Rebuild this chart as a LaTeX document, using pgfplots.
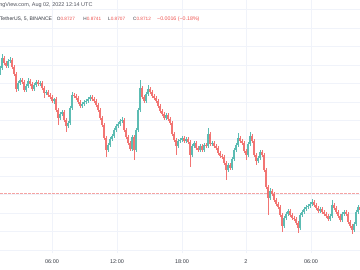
\documentclass[border=0pt]{standalone}
\usepackage{fontspec}
\setmainfont{Liberation Sans}
\usepackage{pgfplots}
\usepackage{pgfplotstable}
\pgfplotsset{compat=1.18}
\definecolor{tvgreen}{HTML}{26A69A}
\definecolor{tvred}{HTML}{EF5350}
\definecolor{tvgrid}{HTML}{F0F3FA}
\definecolor{tvtext}{HTML}{131722}
\definecolor{tvgray}{HTML}{50535E}
\definecolor{tvpink}{HTML}{F5A3A2}

% t = horizontal position of the candle, o h l c = open high low close (price level, arbitrary linear units)
\pgfplotstableread{
t o h l c
0 177 184 175 182
2 182 196 180 192
4 192 194 185 187
6 187 189 182 184
8 184 191 182 189
10 189 193 187 190
12 190 192 181 183
14 183 185 174 176
16 176 178 158 161
18 161 169 159 167
20 167 172 165 170
22 170 172 166 168
24 168 170 158 160
26 160 166 158 164
28 164 172 162 169
30 169 171 164 166
32 166 168 159 161
34 161 167 159 165
36 165 170 163 168
38 168 170 164 166
40 166 169 164 167
42 167 169 160 162
44 162 164 152 157
46 157 160 155 158
48 158 160 153 155
50 155 157 151 153
52 153 155 147 149
54 149 152 146 151
56 151 153 138 140
58 140 142 125 132
60 132 138 130 136
62 136 140 134 138
64 138 140 128 130
66 130 132 118 124
68 124 129 122 127
70 127 144 125 142
72 142 158 140 155
74 155 157 152 154
76 154 156 150 152
78 152 154 146 148
80 148 150 142 144
82 144 148 142 146
84 146 150 144 148
86 148 151 146 149
88 149 153 147 151
90 151 155 149 153
92 153 155 149 151
94 151 153 147 149
96 149 151 143 145
98 145 147 138 140
100 140 142 130 132
102 132 134 123 125
104 125 127 110 112
106 112 114 93 100
108 100 107 98 105
110 105 113 103 111
112 111 116 109 114
114 114 122 112 120
116 120 126 118 124
118 124 128 122 126
120 126 131 124 129
122 129 133 127 130
124 130 132 118 120
126 120 122 111 113
128 113 115 105 107
130 107 109 99 101
132 101 115 99 113
134 113 115 90 100
136 100 122 98 120
138 120 142 118 140
140 140 170 138 162
142 162 164 151 153
144 153 155 147 149
146 149 158 147 156
148 156 165 154 161
150 161 163 156 158
152 158 160 152 154
154 154 156 150 152
156 152 154 147 149
158 149 151 142 144
160 144 146 137 139
162 139 141 134 136
164 136 138 130 132
166 132 137 130 135
168 135 137 129 131
170 131 133 125 127
172 127 129 114 116
174 116 118 108 110
176 110 112 95 104
178 104 111 102 109
180 109 112 107 110
182 110 114 108 112
184 112 114 107 109
186 109 113 107 111
188 111 113 106 108
190 108 110 83 95
192 95 106 93 104
194 104 109 102 107
196 107 109 100 102
198 102 104 98 100
200 100 106 98 104
202 104 106 98 100
204 100 107 98 105
206 105 107 102 104
208 104 122 102 116
210 116 118 104 106
212 106 109 104 107
214 107 109 102 104
216 104 106 100 102
218 102 104 95 97
220 97 99 92 94
222 94 96 91 93
224 93 95 85 87
226 87 89 70 80
228 80 87 78 85
230 85 87 80 82
232 82 93 80 91
234 91 102 89 100
236 100 107 98 105
238 105 117 103 112
240 112 114 107 109
242 109 111 105 107
244 107 109 97 99
246 99 101 90 95
248 95 108 93 106
250 106 118 104 114
252 114 116 107 109
254 109 111 93 95
256 95 97 85 89
258 89 94 87 92
260 92 100 90 98
262 98 100 93 95
264 95 97 78 80
266 80 82 61 63
268 63 65 35 52
270 52 62 50 59
272 59 61 54 56
274 56 58 48 50
276 50 52 44 46
278 46 48 41 43
280 43 45 33 35
282 35 37 18 24
284 24 34 22 32
286 32 38 30 36
288 36 41 34 39
290 39 41 33 35
292 35 37 30 32
294 32 34 29 31
296 31 33 25 27
298 27 29 17 22
300 22 37 20 35
302 35 40 33 38
304 38 43 36 41
306 41 45 39 43
308 43 46 41 44
310 44 48 42 46
312 46 51 44 48
314 48 50 43 45
316 45 47 40 42
318 42 44 37 39
320 39 43 37 41
322 41 43 36 38
324 38 40 34 36
326 36 38 32 34
328 34 36 29 31
330 31 36 29 34
332 34 50 32 45
334 45 47 40 42
336 42 44 36 38
338 38 40 32 34
340 34 36 28 30
342 30 38 28 36
344 36 40 34 38
346 38 40 34 36
348 36 38 26 28
350 28 30 22 24
352 24 26 16 20
354 20 28 18 26
356 26 40 24 38
358 38 45 36 43
360 43 45 38 40
}\candles

\colorlet{upc}{tvgreen!75!white}
\colorlet{dnc}{tvred!80!white}

\pgfplotsset{
  candle/.style n args={2}{draw=none, mark=none, forget plot,
    error bars/.cd, y dir=both, y explicit, error mark=none,
    error bar style={draw=#1, line width=#2, line cap=butt}, /pgfplots/.cd},
}

\begin{document}
\begin{tikzpicture}[x=1bp,y=1bp]
\useasboundingbox (0,0) rectangle (360,270);
\clip (0,0) rectangle (360,270);
\fill[white] (0,0) rectangle (360,270);
\begin{axis}[
  at={(0,17)}, anchor=south west,
  scale only axis, width=360bp, height=253bp,
  xmin=0, xmax=360, ymin=-3, ymax=250,
  axis line style={draw=none},
  major tick length=0pt,
  xtick={52,117,182,246,311},
  xticklabels={06:00,12:00,18:00,2,06:00},
  ytick={0,18.5,...,245},
  yticklabel=\empty,
  grid=major,
  major grid style={draw=tvgrid, line width=0.7bp},
  xticklabel style={font=\fontsize{5.5}{6}\selectfont, text=tvtext!85!white, inner sep=0pt, anchor=center, yshift=-9bp},
  clip=true,
]
% last price line
\addplot[draw=tvpink, color=tvpink, mark=none, line width=0.8bp, dash pattern=on 2.5bp off 1.5bp, forget plot] coordinates {(0,57) (360,57)};
% rising candles: wicks then bodies
\addplot[restrict expr to domain={\thisrow{c}-\thisrow{o}}{0:1000}, candle={upc}{0.45bp}]
  table[x=t, y expr={(\thisrow{h}+\thisrow{l})/2}, y error expr={(\thisrow{h}-\thisrow{l})/2}] {\candles};
\addplot[restrict expr to domain={\thisrow{c}-\thisrow{o}}{0:1000}, candle={upc}{1.4bp}]
  table[x=t, y expr={(\thisrow{o}+\thisrow{c})/2}, y error expr={(\thisrow{c}-\thisrow{o})/2+0.3}] {\candles};
% falling candles
\addplot[restrict expr to domain={\thisrow{c}-\thisrow{o}}{-1000:-0.01}, candle={dnc}{0.45bp}]
  table[x=t, y expr={(\thisrow{h}+\thisrow{l})/2}, y error expr={(\thisrow{h}-\thisrow{l})/2}] {\candles};
\addplot[restrict expr to domain={\thisrow{c}-\thisrow{o}}{-1000:-0.01}, candle={dnc}{1.4bp}]
  table[x=t, y expr={(\thisrow{o}+\thisrow{c})/2}, y error expr={(\thisrow{o}-\thisrow{c})/2+0.3}] {\candles};
\end{axis}
\begin{scope}[every node/.style={inner sep=0pt}]
\node[anchor=east, text=tvgray, font=\fontsize{5.5}{6}\selectfont] at (92.7,265) {TradingView.com, Aug 02, 2022 12:14 UTC};
\node[anchor=west, text=tvtext!85!white, font=\fontsize{5.1}{6}\selectfont] at (-0.3,251) {TetherUS, 5, BINANCE};
\node[anchor=west, text=tvtext!85!white, font=\fontsize{4.7}{6}\selectfont] at (56.7,251) {O\textcolor{tvred}{0.8727}};
\node[anchor=west, text=tvtext!85!white, font=\fontsize{4.7}{6}\selectfont] at (83.3,251) {H\textcolor{tvred}{0.8741}};
\node[anchor=west, text=tvtext!85!white, font=\fontsize{4.7}{6}\selectfont] at (108,251) {L\textcolor{tvred}{0.8707}};
\node[anchor=west, text=tvtext!85!white, font=\fontsize{4.7}{6}\selectfont] at (133,251) {C\textcolor{tvred}{0.8712}};
\node[anchor=west, text=tvred, font=\fontsize{5.3}{6}\selectfont] at (157,251) {−0.0016 (−0.18\%)};
\end{scope}
\end{tikzpicture}
\end{document}
